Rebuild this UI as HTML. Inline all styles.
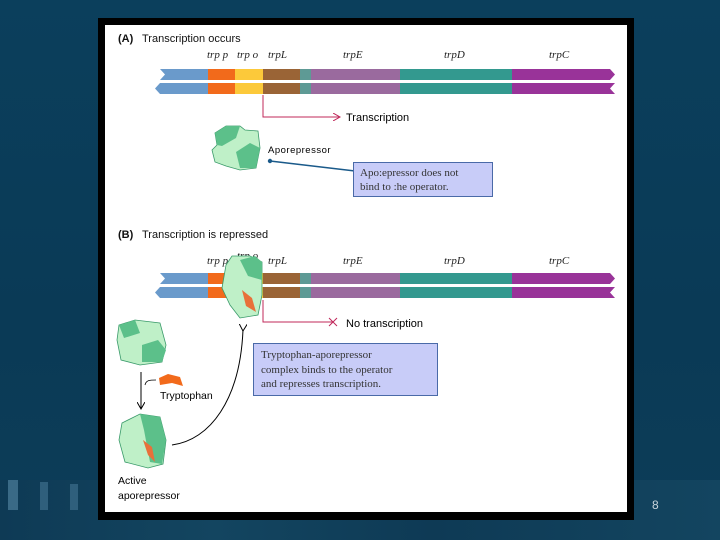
<!DOCTYPE html>
<html><head><style>
body{margin:0;width:720px;height:540px;overflow:hidden;background:linear-gradient(180deg,#0b3f5c 0%,#0a3a56 60%,#0d3d58 100%);font-family:"Liberation Sans",sans-serif;position:relative}
.frame{position:absolute;left:98px;top:18px;width:536px;height:502px;background:#000}
.white{position:absolute;left:105px;top:25px;width:522px;height:487px;background:#fff}
</style></head><body>
<div style="position:absolute;left:0;top:480px;width:720px;height:60px;background:linear-gradient(90deg,#0e3a55,#134560 30%,#0e3a55 60%,#134560)"></div>
<div style="position:absolute;left:8px;top:480px;width:10px;height:30px;background:#3a6a86"></div>
<div style="position:absolute;left:40px;top:482px;width:8px;height:28px;background:#2f5f7c"></div>
<div style="position:absolute;left:70px;top:484px;width:8px;height:26px;background:#2f5f7c"></div>
<div class="frame"></div><div class="white"></div>
<svg width="720" height="540" style="position:absolute;left:0;top:0">
<defs>
<g id="dna">
<polygon points="160,0 208,0 208,11 160,11 165,5.5" fill="#6a9acb"/>
<rect x="208" y="0" width="27" height="11" fill="#f26a1b"/>
<rect x="235" y="0" width="28" height="11" fill="#fcc93a"/>
<rect x="263" y="0" width="37" height="11" fill="#9a6436"/>
<rect x="300" y="0" width="11" height="11" fill="#5e9a95"/>
<rect x="311" y="0" width="89" height="11" fill="#9a6a9e"/>
<rect x="400" y="0" width="112" height="11" fill="#33998f"/>
<polygon points="512,0 610,0 615,5.5 610,11 512,11" fill="#993399"/>
<polygon points="160,14 208,14 208,25 160,25 155,19.5" fill="#6a9acb"/>
<rect x="208" y="14" width="27" height="11" fill="#f26a1b"/>
<rect x="235" y="14" width="28" height="11" fill="#fcc93a"/>
<rect x="263" y="14" width="37" height="11" fill="#9a6436"/>
<rect x="300" y="14" width="11" height="11" fill="#5e9a95"/>
<rect x="311" y="14" width="89" height="11" fill="#9a6a9e"/>
<rect x="400" y="14" width="112" height="11" fill="#33998f"/>
<polygon points="512,14 615,14 610,19.5 615,25 512,25" fill="#993399"/>
</g>
<marker id="ar" markerWidth="8" markerHeight="8" refX="7" refY="4" orient="auto"><path d="M0,0 L7,4 L0,8" fill="none" stroke="#c0285a" stroke-width="1"/></marker>
<marker id="ak" markerWidth="8" markerHeight="8" refX="6" refY="4" orient="auto"><path d="M0,0 L7,4 L0,8" fill="none" stroke="#000" stroke-width="1"/></marker>
</defs>
<g font-size="11" fill="#111">
<text x="118" y="42" font-weight="bold">(A)</text><text x="142" y="42">Transcription occurs</text>
<text x="118" y="238" font-weight="bold">(B)</text><text x="142" y="238">Transcription is repressed</text>
</g>
<g font-family="Liberation Serif,serif" font-style="italic" font-size="11" fill="#222">
<text x="207" y="58">trp p</text><text x="237" y="58">trp o</text><text x="268" y="58">trpL</text><text x="343" y="58">trpE</text><text x="444" y="58">trpD</text><text x="549" y="58">trpC</text>
<text x="207" y="264">trp p</text><text x="237" y="259">trp o</text><text x="268" y="264">trpL</text><text x="343" y="264">trpE</text><text x="444" y="264">trpD</text><text x="549" y="264">trpC</text>
</g>
<use href="#dna" transform="translate(0,69)"/>
<use href="#dna" transform="translate(0,273)"/>
<path d="M263,95 V117 H340" fill="none" stroke="#c0285a" stroke-width="1" marker-end="url(#ar)"/>
<text x="346" y="121" font-size="11">Transcription</text>
<path d="M215,133 L226,126 L240,126 L245,130 L258,131 L260,148 L256,168 L240,170 L226,166 L215,162 L212,150 L217,145 Z" fill="#bff0c8" stroke="#3a9a6a" stroke-width="0.8"/>
<path d="M215,133 L226,126 L240,126 L236,138 L222,146 L217,145 Z" fill="#5cc08a"/>
<path d="M236,152 L250,143 L260,148 L256,168 L240,168 Z" fill="#5cc08a"/>
<text x="268" y="153" font-size="9.5" letter-spacing="0.5">Aporepressor</text>
<circle cx="270" cy="161" r="2.2" fill="#1a5a8a"/>
<path d="M270,161 L355,171" stroke="#1a5a8a" stroke-width="1.5"/>
<rect x="353.5" y="162.5" width="139" height="34" fill="#c8ccf8" stroke="#4a6aa8"/>
<text font-family="Liberation Serif,serif" font-size="11" fill="#333"><tspan x="360" y="176">Apo:epressor does not</tspan><tspan x="360" y="190">bind to :he operator.</tspan></text>
<path d="M263,300 V322 H333" fill="none" stroke="#c0285a" stroke-width="1"/>
<path d="M329,318 L337,326 M337,318 L329,326" stroke="#c0285a"/>
<text x="346" y="327" font-size="11">No transcription</text>
<path d="M226,265 L232,256 L250,256 L262,262 L262,295 L258,315 L240,318 L230,305 L222,288 Z" fill="#bff0c8" stroke="#3a9a6a" stroke-width="0.8"/>
<path d="M240,260 L255,256 L262,262 L262,280 L248,276 Z" fill="#5cc08a"/>
<path d="M242,290 L252,298 L256,312 L246,306 Z" fill="#e8703a"/>
<path d="M243,330 C240,400 210,440 172,445" fill="none" stroke="#000" stroke-width="1" marker-start="url(#ak)"/>
<rect x="253.5" y="343.5" width="184" height="52" fill="#c8ccf8" stroke="#4a6aa8"/>
<text font-family="Liberation Serif,serif" font-size="11" fill="#333"><tspan x="261" y="358">Tryptophan-aporepressor</tspan><tspan x="261" y="373">complex binds to the operator</tspan><tspan x="261" y="387">and represses transcription.</tspan></text>
<path d="M119,325 L135,320 L160,323 L166,345 L162,362 L140,365 L121,360 L117,340 Z" fill="#bff0c8" stroke="#3a9a6a" stroke-width="0.8"/>
<path d="M119,325 L135,320 L140,333 L124,338 Z" fill="#5cc08a"/>
<path d="M142,345 L158,340 L166,350 L162,362 L142,362 Z" fill="#5cc08a"/>
<path d="M141,372 V408" stroke="#000" marker-end="url(#ak)"/>
<path d="M145,385 C146,380 150,380 156,380" fill="none" stroke="#000" stroke-width="0.8"/>
<path d="M159,378 L168,374 L180,377 L183,386 L172,383 L160,385 Z" fill="#f26a1b"/>
<text x="160" y="399" font-size="10.5">Tryptophan</text>
<path d="M122,423 L140,414 L160,417 L166,440 L163,464 L148,468 L125,462 L119,440 Z" fill="#bff0c8" stroke="#3a9a6a" stroke-width="0.8"/>
<path d="M140,414 L160,417 L166,440 L162,464 L150,462 L144,430 Z" fill="#5cc08a"/>
<path d="M143,440 L152,447 L155,462 L148,455 Z" fill="#e8703a"/>
<text font-size="10.5"><tspan x="118" y="484">Active</tspan><tspan x="118" y="499">aporepressor</tspan></text>
<text x="652" y="509" font-size="12" fill="#c8d4dc">8</text>
</svg>
</body></html>
